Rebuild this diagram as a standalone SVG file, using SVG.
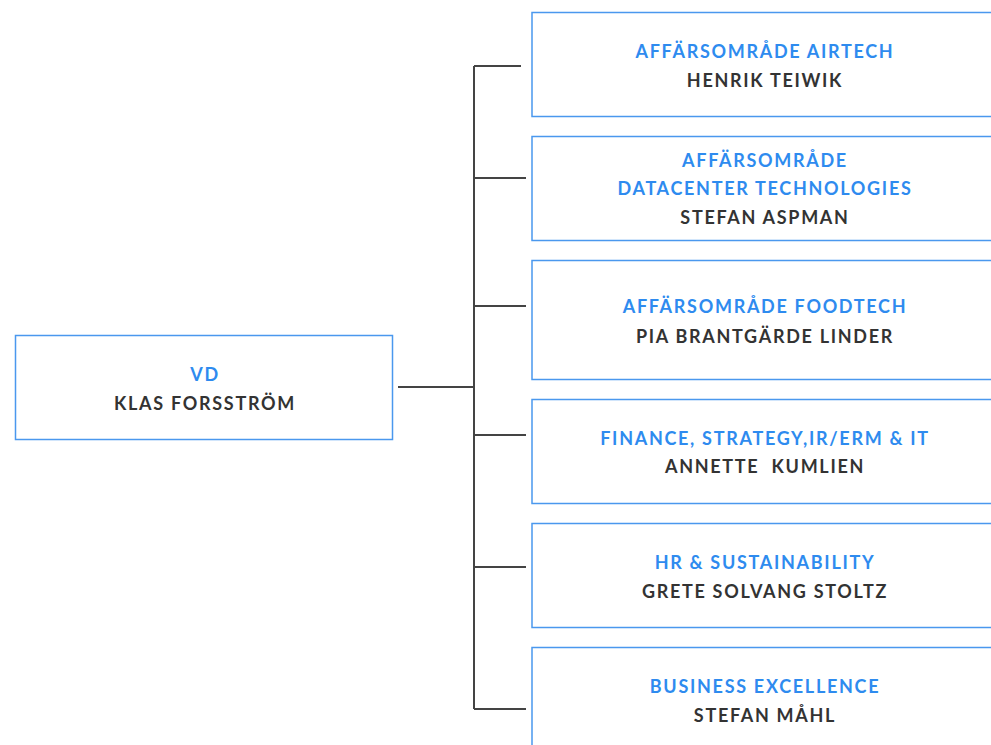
<svg xmlns="http://www.w3.org/2000/svg" width="991" height="745" viewBox="0 0 991 745">
<style>
.box{fill:#fff;stroke:#4a98ee;stroke-width:1.5}
.t{font-family:Lato,"Noto Sans",sans-serif;font-weight:700;font-size:18px;letter-spacing:1.7px;text-anchor:middle;white-space:pre}
.b{fill:#2e8bef}
.d{fill:#333}
.c{stroke:#444;stroke-width:2;fill:none}
</style>
<rect width="991" height="745" fill="#fff"/>
<g id="connectors">
<path class="c" d="M474 66V709M474 66H521M474 178H526M474 306H526M474 435H526M474 567H526M474 709H526M398 387H474"/>
</g>
<g id="vd">
<rect class="box" x="15.5" y="335.5" width="377" height="104"/>
<text class="t b" x="205" y="381">VD</text>
<text class="t d" x="205" y="410">KLAS FORSSTRÖM</text>
</g>
<g id="airtech">
<rect class="box" x="532" y="12.5" width="464" height="104"/>
<text class="t b" x="765" y="58">AFFÄRSOMRÅDE AIRTECH</text>
<text class="t d" x="765" y="87">HENRIK TEIWIK</text>
</g>
<g id="datacenter">
<rect class="box" x="532" y="136.5" width="464" height="104"/>
<text class="t b" x="765" y="167">AFFÄRSOMRÅDE</text>
<text class="t b" x="765" y="195">DATACENTER TECHNOLOGIES</text>
<text class="t d" x="765" y="224">STEFAN ASPMAN</text>
</g>
<g id="foodtech">
<rect class="box" x="532" y="260.5" width="464" height="119"/>
<text class="t b" x="765" y="313">AFFÄRSOMRÅDE FOODTECH</text>
<text class="t d" x="765" y="343">PIA BRANTGÄRDE LINDER</text>
</g>
<g id="finance">
<rect class="box" x="532" y="399.5" width="464" height="104"/>
<text class="t b" x="765" y="445">FINANCE, STRATEGY,IR/ERM &amp; IT</text>
<text class="t d" x="765" y="473">ANNETTE  KUMLIEN</text>
</g>
<g id="hr">
<rect class="box" x="532" y="523.5" width="464" height="104"/>
<text class="t b" x="765" y="569">HR &amp; SUSTAINABILITY</text>
<text class="t d" x="765" y="598">GRETE SOLVANG STOLTZ</text>
</g>
<g id="business">
<rect class="box" x="532" y="647.5" width="464" height="110"/>
<text class="t b" x="765" y="693">BUSINESS EXCELLENCE</text>
<text class="t d" x="765" y="722">STEFAN MÅHL</text>
</g>
</svg>
